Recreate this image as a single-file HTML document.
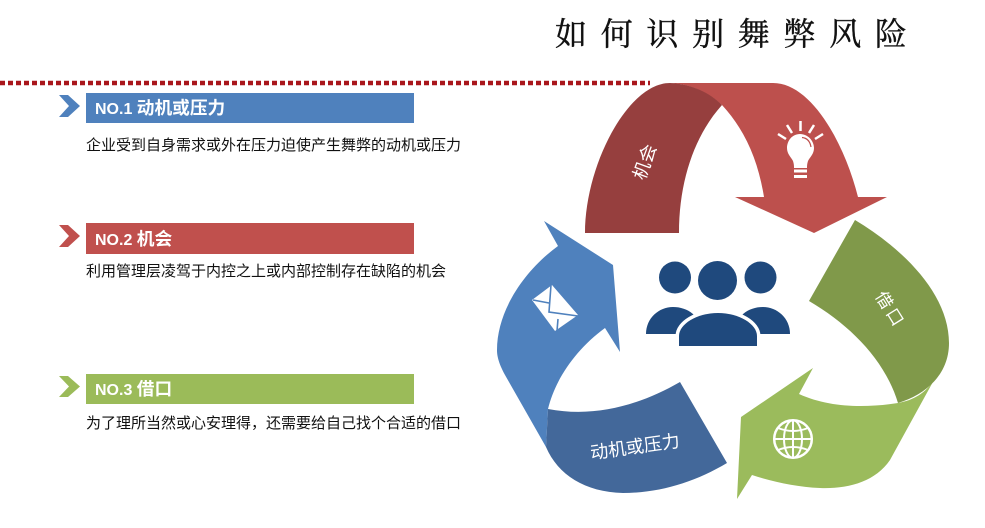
<!DOCTYPE html>
<html lang="zh"><head><meta charset="utf-8"><title>如何识别舞弊风险</title>
<style>
html,body{margin:0;padding:0;background:#fff}
svg{display:block}
.cn{font-family:"Liberation Sans","Noto Sans CJK SC",sans-serif}
.h{font-size:16px;font-weight:700;fill:#fff}
.h tspan{font-size:17.7px}
.b{font-size:15px;fill:#111}
</style></head><body>
<svg width="985" height="528" viewBox="0 0 985 528" xmlns="http://www.w3.org/2000/svg">
<rect width="985" height="528" fill="#fff"/>
<text x="555" y="45" font-family="'Noto Serif CJK SC',serif" font-size="32" letter-spacing="13.7" fill="#111" stroke="#111" stroke-width="0.4">如何识别舞弊风险</text>
<line x1="0" y1="83" x2="650" y2="83" stroke="#a9161c" stroke-width="4.5" stroke-dasharray="5 3"/>

<!-- left list -->
<g class="cn">
<path d="M59 95H68L80 106L68 117H59L69 106Z" fill="#4f81bd"/>
<rect x="86" y="93" width="328" height="30" fill="#4f81bd"/>
<text x="95" y="114" class="h">NO.1 <tspan>动机或压力</tspan></text>
<text x="86" y="150" class="b">企业受到自身需求或外在压力迫使产生舞弊的动机或压力</text>
<path d="M59 225H68L80 236L68 247H59L69 236Z" fill="#c0504d"/>
<rect x="86" y="223" width="328" height="31" fill="#c0504d"/>
<text x="95" y="245" class="h">NO.2 <tspan>机会</tspan></text>
<text x="86" y="276" class="b">利用管理层凌驾于内控之上或内部控制存在缺陷的机会</text>
<path d="M59 376H68L80 386.500L68 397H59L69 386.500Z" fill="#9bbb59"/>
<rect x="86" y="374" width="328" height="30" fill="#9bbb59"/>
<text x="95" y="395" class="h">NO.3 <tspan>借口</tspan></text>
<text x="86" y="428" class="b">为了理所当然或心安理得，还需要给自己找个合适的借口</text>
</g>

<!-- red arrow -->
<path d="M670 83H773C812 83 845 145 858 197H887L814 233L735 197H764C758 160 745 130 722 105C708 92 690 84 670 83Z" fill="#bd504d"/>
<path d="M585 233C585 165 628 83 670 83C692 84 710 93 722 105C695 135 679 180 679 233Z" fill="#963f3e"/>

<!-- green arrow -->
<path d="M934 380L890 460C875 482 848 489 820 488C797 487 773 482 752 475L737 499L741 417L813 368L799 394C830 408 865 408 898 403C915 400 926 392 934 380Z" fill="#9bbb5c"/>
<path d="M855 220C905 250 949 295 949 343C949 375 925 395 898 403C885 360 850 325 809 301Z" fill="#80994a"/>

<!-- blue arrow -->
<path d="M544 221L613 265L620 352L605 328C575 350 555 380 548 409L546 447L505 375C498 362 497 355 497 350C497 310 525 270 558 246Z" fill="#4f81bd"/>
<path d="M548 409C595 418 640 405 680 382L727 463C695 482 660 493 623 493C585 492 558 475 546 447Z" fill="#43689a"/>

<!-- people -->
<g fill="#1f497d">
<circle cx="675" cy="277.500" r="16"/><circle cx="717.500" cy="280.500" r="19.500"/><circle cx="760.500" cy="277.500" r="16"/>
<path d="M646 334C646 318 659 307 673 307C688 307 700 316 704 334Z"/>
<path d="M790 334C790 318 777 307 763 307C748 307 736 316 732 334Z"/>
<path d="M679 346V336C679 324 697 313 718 313C739 313 757 324 757 336V346Z" stroke="#fff" stroke-width="7" paint-order="stroke"/>
</g>

<!-- labels -->
<g class="cn" fill="#fff">
<text transform="translate(645 162) rotate(-70)" font-size="18" text-anchor="middle" dominant-baseline="central">机会</text>
<text transform="translate(890 310) rotate(58)" font-size="17" letter-spacing="3" text-anchor="middle" dominant-baseline="central">借口</text>
<text transform="translate(635 447) rotate(-8)" font-size="18" text-anchor="middle" dominant-baseline="central">动机或压力</text>
</g>

<!-- bulb -->
<g fill="#fff">
<path d="M800 134C792 134 787 141 787 148C787 154 791 157 793 161C794 164 794 166 794 168H807C807 166 807 164 808 161C810 157 814 154 814 148C814 141 808 134 800 134Z"/>
<rect x="794" y="169.500" width="13" height="3"/><rect x="794" y="175" width="13" height="3"/>
</g>
<path d="M802 137.500C807 138 810 141 811 147" fill="none" stroke="#bd504d" stroke-width="1.200"/>
<g stroke="#fff" stroke-width="2.500">
<line x1="800.500" y1="121" x2="800.500" y2="131"/><line x1="787" y1="125" x2="792" y2="133"/><line x1="814" y1="125" x2="809" y2="133"/><line x1="778" y1="134" x2="786" y2="139"/><line x1="823" y1="134" x2="815" y2="139"/>
</g>

<!-- envelope -->
<path d="M532 300L552 285L578 315L555 331Z" fill="#fff"/>
<path d="M551 285L549 312L578 316M533 300L549 303M558 319L557 331" fill="none" stroke="#4f81bd" stroke-width="1.600"/>

<!-- globe -->
<g fill="none" stroke="#fff" stroke-width="2">
<circle cx="793" cy="439" r="18.800" stroke-width="2.500"/>
<ellipse cx="793" cy="439" rx="9" ry="18.800"/>
<line x1="793" y1="420" x2="793" y2="458"/>
<line x1="775" y1="439" x2="811" y2="439"/>
<path d="M778 428C788 432 798 432 808 428M778 450C788 446 798 446 808 450"/>
</g>
</svg>
</body></html>
